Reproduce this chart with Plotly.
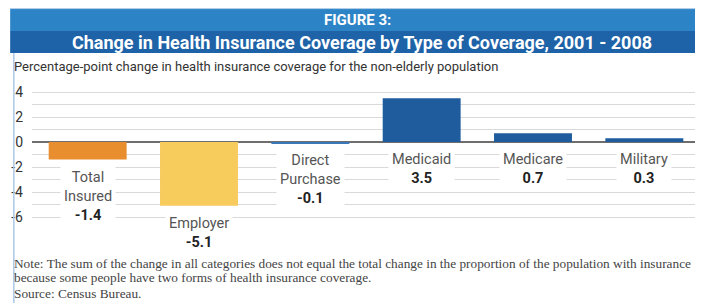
import plotly.graph_objects as go

categories = ["Total Insured", "Employer", "Direct Purchase", "Medicaid", "Medicare", "Military"]
label_lines = ["Total<br>Insured", "Employer", "Direct<br>Purchase", "Medicaid", "Medicare", "Military"]
values = [-1.4, -5.1, -0.1, 3.5, 0.7, 0.3]
bar_colors = ["#E98E2E", "#F7CB5C", "#3A78BA", "#1F5C9E", "#1F5C9E", "#1F5C9E"]
tick_vals = [-6, -4, -2, 0, 2, 4]
tick_text = ["-6", "-4", "-2", "0", "2", "4"]

# page body has an 8px margin, so the figure is drawn 8px smaller and coordinates
# below are given in window pixels, converted with OFF
OFF = 8
W, H = 703 - OFF, 303 - OFF
L, R, T, B = 19, 3, 82, 84
PW, PH = W - L - R, H - T - B

def px(x):
    return ((x - OFF) - L) / PW

def py(y):
    return (T + PH - (y - OFF)) / PH

SANS = "Roboto, Open Sans, sans-serif"
SERIF = "Liberation Serif, Times New Roman, serif"

fig = go.Figure()
fig.add_trace(go.Bar(
    x=categories, y=values, marker=dict(color=bar_colors, line=dict(width=0)),
    width=0.7, hoverinfo="skip", showlegend=False,
))

annotations = []
for cat, lab, v in zip(categories, label_lines, values):
    annotations.append(dict(
        x=cat, y=min(v, 0), xref="x", yref="y", yanchor="top", xanchor="center",
        yshift=-5, showarrow=False, bgcolor="white", borderpad=3,
        text=f"<span style='color:#555'>{lab}</span><br><b>{v:g}</b>",
        font=dict(family=SANS, size=14.5, color="#222"),
    ))

annotations += [
    dict(xref="paper", yref="paper", x=px(355), y=py(20), text="<b>FIGURE 3:</b>",
         showarrow=False, xanchor="center", yanchor="middle",
         font=dict(family=SANS, size=15, color="white")),
    dict(xref="paper", yref="paper", x=px(359), y=py(42),
         text="<b>Change in Health Insurance Coverage by Type of Coverage, 2001 - 2008</b>",
         showarrow=False, xanchor="center", yanchor="middle",
         font=dict(family=SANS, size=18, color="white")),
    dict(xref="paper", yref="paper", x=px(7), y=py(67),
         text="Percentage-point change in health insurance coverage for the non-elderly population",
         showarrow=False, xanchor="left", yanchor="middle",
         font=dict(family=SANS, size=13, color="#333")),
    dict(xref="paper", yref="paper", x=px(7), y=py(263),
         text="Note: The sum of the change in all categories does not equal the total change in the proportion of the population with insurance",
         showarrow=False, xanchor="left", yanchor="middle",
         font=dict(family=SERIF, size=13.3, color="#444")),
    dict(xref="paper", yref="paper", x=px(7), y=py(277),
         text="because some people have two forms of health insurance coverage.",
         showarrow=False, xanchor="left", yanchor="middle",
         font=dict(family=SERIF, size=13.3, color="#444")),
    dict(xref="paper", yref="paper", x=px(7), y=py(293),
         text="Source: Census Bureau.",
         showarrow=False, xanchor="left", yanchor="middle",
         font=dict(family=SERIF, size=13.3, color="#444")),
]

shapes = [
    dict(type="rect", xref="paper", yref="paper", x0=px(5), x1=px(703), y0=py(31), y1=py(9),
         fillcolor="#2C84C7", line=dict(width=0), layer="below"),
    dict(type="rect", xref="paper", yref="paper", x0=px(5), x1=px(703), y0=py(53), y1=py(31),
         fillcolor="#1E62A7", line=dict(width=0), layer="below"),
    dict(type="line", xref="paper", yref="paper", x0=px(8.7), x1=px(8.7), y0=py(303), y1=py(53),
         line=dict(color="#A9C8E6", width=1.5)),
    dict(type="line", xref="paper", yref="paper", x0=px(5), x1=px(703), y0=py(8.6), y1=py(8.6),
         line=dict(color="#A9C8E6", width=1)),
]

fig.update_layout(
    width=W, height=H, margin=dict(l=L, r=R, t=T, b=B),
    paper_bgcolor="white", plot_bgcolor="white",
    bargap=0.3, annotations=annotations, shapes=shapes,
    xaxis=dict(range=[-0.5, 5.5], showticklabels=False, showgrid=False, zeroline=False,
               showline=False, fixedrange=True),
    yaxis=dict(range=[-6.16, 4.16], tickvals=tick_vals, ticktext=tick_text,
               showgrid=True, gridcolor="#D9D9D9", gridwidth=1,
               minor=dict(dtick=1, tick0=0, showgrid=True, gridcolor="#D9D9D9", gridwidth=1),
               zeroline=True, zerolinecolor="#6E6E6E", zerolinewidth=1.5,
               showline=False, ticks="", ticklabelstandoff=8,
               tickfont=dict(family=SANS, size=14, color="#333"), fixedrange=True),
)

fig.write_html("out.html")
